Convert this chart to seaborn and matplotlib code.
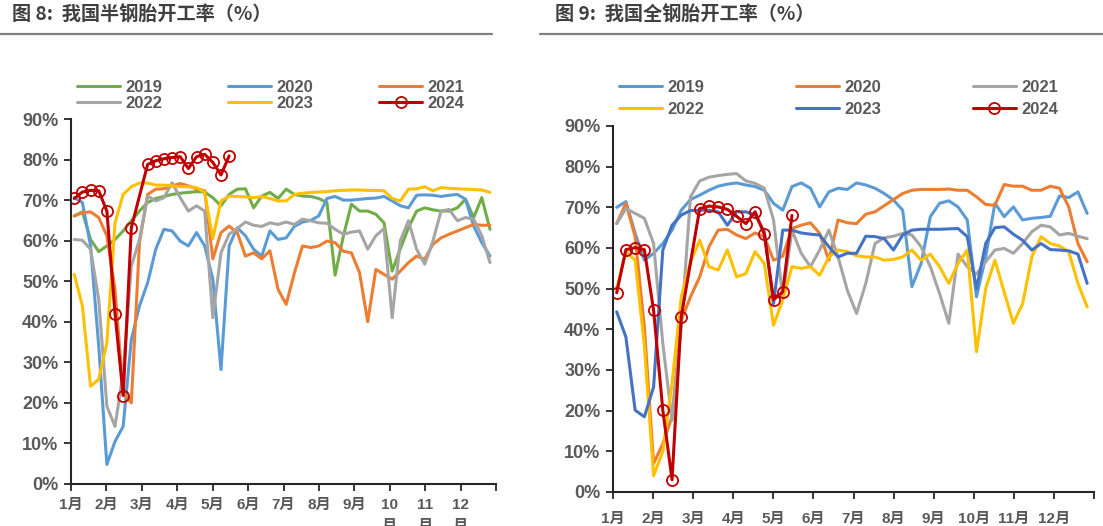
import numpy as np
import pandas as pd
import matplotlib
matplotlib.use("Agg")
import matplotlib.pyplot as plt
import seaborn as sns

sns.set_theme(style="white")
plt.rcParams['font.family'] = ['Liberation Sans', 'Noto Sans CJK SC', 'DejaVu Sans']

# ---------------- data: weekly operating rate (%) ----------------
months = ["1月", "2月", "3月", "4月", "5月", "6月", "7月", "8月", "9月", "10\n月", "11\n月", "12\n月"]
months_r = ["1月", "2月", "3月", "4月", "5月", "6月", "7月", "8月", "9月", "10月", "11月", "12月"]
years = ["2019", "2020", "2021", "2022", "2023", "2024"]

# semi-steel tyres (left)
semi_2019 = [66.1, 67.1, 60.3, 57.3, 58.7, 60.3, 62.4, 64.9, 67.3, 69.4, 70.4, 70.9, 71.4, 71.7, 71.9, 72.1,
             72.0, 70.6, 68.6, 71.4, 72.7, 72.8, 68.1, 71.0, 71.9, 70.4, 72.7, 71.4, 71.0, 70.9, 70.4, 69.4,
             51.5, 61.0, 69.0, 67.3, 67.3, 66.5, 64.4, 52.5, 58.0, 63.2, 67.3, 68.1, 67.6, 67.3, 67.3, 68.1,
             70.2, 65.7, 70.6, 62.8]
semi_2020 = [70.6, 69.4, 58.7, 34.0, 4.8, 10.5, 14.2, 35.6, 43.9, 49.6, 57.9, 62.8, 62.4, 59.9, 58.7, 62.0,
             58.7, 50.5, 28.2, 58.7, 63.2, 61.2, 57.9, 56.2, 62.4, 60.3, 60.7, 63.5, 64.6, 65.0, 66.1, 70.4,
             70.9, 70.0, 70.0, 70.2, 70.4, 70.5, 70.9, 69.8, 68.6, 68.1, 71.2, 71.3, 71.2, 70.9, 71.2, 71.4,
             70.2, 63.6, 59.5, 56.2]
semi_2021 = [66.1, 66.9, 67.1, 65.7, 61.2, 48.0, 22.5, 20.0, 59.5, 71.4, 72.7, 72.8, 73.5, 74.1, 73.5, 72.8,
             72.3, 55.5, 62.0, 63.6, 62.0, 56.2, 57.0, 55.5, 57.5, 48.0, 44.3, 52.0, 58.7, 58.3, 58.7, 59.9,
             59.5, 57.4, 57.0, 52.1, 40.0, 52.9, 51.7, 50.5, 52.5, 54.6, 56.2, 55.4, 59.1, 60.7, 61.6, 62.4,
             63.2, 64.0, 63.8, 63.8]
semi_2022 = [60.3, 60.1, 57.9, 45.5, 19.2, 14.2, 27.4, 53.7, 60.3, 71.0, 69.8, 70.6, 74.3, 70.6, 67.3, 68.6,
             67.3, 41.0, 57.0, 61.6, 63.0, 64.6, 63.8, 63.5, 64.4, 64.0, 64.6, 64.0, 65.3, 64.9, 64.4, 64.3,
             62.8, 61.6, 62.1, 62.4, 57.9, 61.2, 63.0, 41.0, 60.0, 64.9, 57.9, 54.2, 59.9, 67.3, 67.7, 64.9,
             65.7, 65.3, 61.2, 54.6]
semi_2023 = [51.7, 43.9, 24.1, 25.8, 34.8, 64.4, 71.4, 73.3, 74.2, 74.2, 73.7, 73.7, 73.5, 73.3, 73.3, 73.1,
             71.9, 60.5, 69.8, 71.0, 70.9, 70.8, 70.6, 70.9, 70.4, 69.8, 69.8, 71.4, 71.7, 71.9, 72.0, 72.1,
             72.3, 72.4, 72.5, 72.5, 72.4, 72.4, 72.3, 70.4, 69.8, 72.7, 72.8, 73.3, 72.3, 73.1, 72.9, 72.8,
             72.7, 72.6, 72.5, 71.9]
semi_2024_wk = [0, 1, 2, 3, 4, 5, 6, 7, 9, 10, 11, 12, 13, 14, 15, 16, 17, 18, 19]
semi_2024 = [70.4, 72.0, 72.4, 72.3, 67.3, 42.0, 21.8, 63.2, 78.8, 79.7, 80.2, 80.5, 80.7, 77.8, 80.7,
             81.3, 79.3, 76.2, 80.9]

# all-steel tyres (right)
all_2019 = [70.0, 71.4, 63.6, 57.0, 58.7, 61.1, 64.4, 69.3, 71.9, 73.0, 74.2, 75.2, 75.7, 76.0, 75.5, 75.1,
            74.2, 71.0, 69.3, 75.1, 76.0, 74.7, 70.1, 73.8, 74.7, 74.4, 76.0, 75.5, 74.7, 73.4, 71.8, 69.3,
            50.5, 56.2, 67.7, 71.0, 71.6, 70.1, 66.9, 48.0, 57.8, 71.0, 67.7, 70.1, 66.9, 67.3, 67.5, 67.8,
            72.8, 72.4, 73.8, 68.5]
all_2020 = [66.0, 71.0, 62.8, 40.6, 7.0, 11.9, 18.5, 42.2, 48.0, 52.9, 60.3, 64.4, 64.6, 63.2, 62.3, 63.7,
            62.8, 57.0, 58.0, 64.8, 65.6, 66.2, 63.6, 57.0, 66.9, 66.2, 66.0, 68.3, 68.9, 70.4, 71.9, 73.4,
            74.2, 74.4, 74.4, 74.4, 74.5, 74.2, 74.2, 72.6, 70.7, 70.5, 75.6, 75.2, 75.2, 74.2, 74.2, 75.2,
            74.7, 70.1, 61.1, 56.6]
all_2021 = [66.0, 69.7, 68.5, 67.3, 61.1, 36.5, 17.6, 40.6, 72.6, 76.5, 77.4, 77.8, 78.1, 78.3, 76.5, 75.9,
            74.7, 66.9, 48.0, 64.4, 58.7, 55.4, 59.5, 64.4, 57.8, 49.6, 43.9, 51.3, 61.1, 62.5, 62.9, 63.6,
            63.2, 60.3, 55.4, 48.8, 41.5, 58.5, 55.4, 53.6, 56.6, 59.5, 59.9, 58.7, 61.1, 64.0, 65.6, 65.2,
            63.2, 63.6, 62.9, 62.3]
all_2022 = [50.0, 59.1, 57.0, 36.0, 4.0, 10.0, 26.7, 48.0, 56.6, 61.9, 55.4, 54.6, 59.5, 52.9, 53.7, 59.1,
            56.2, 41.0, 47.2, 55.4, 55.0, 55.4, 53.3, 57.8, 59.5, 59.1, 58.1, 57.8, 57.8, 57.0, 57.2, 57.8,
            59.5, 57.0, 58.5, 55.4, 51.3, 56.2, 59.5, 34.5, 50.0, 57.0, 49.2, 41.5, 46.3, 57.8, 62.8, 61.1,
            60.5, 59.1, 51.3, 45.5]
all_2023 = [44.3, 38.1, 20.1, 18.5, 25.8, 59.5, 65.6, 68.1, 69.2, 69.3, 69.3, 68.9, 65.6, 68.9, 68.9, 68.1,
            64.0, 46.3, 64.4, 64.4, 63.7, 63.4, 63.2, 60.3, 57.8, 58.7, 58.7, 62.9, 62.8, 62.3, 59.5, 63.2,
            64.4, 64.6, 64.6, 64.6, 64.7, 64.8, 62.8, 50.0, 61.1, 65.0, 65.2, 63.4, 61.9, 59.5, 61.1, 59.6,
            59.5, 59.3, 58.5, 51.3]
all_2024_wk = [0, 1, 2, 3, 4, 5, 6, 7, 9, 10, 11, 12, 13, 14, 15, 16, 17, 18, 19]
all_2024 = [49.0, 59.6, 60.1, 59.6, 44.7, 20.1, 3.0, 43.1, 69.7, 70.3, 70.1, 69.5, 67.8, 66.0, 68.9,
            63.4, 47.3, 49.2, 68.0]

left_colors = ["#70AD47", "#5B9BD5", "#ED7D31", "#A5A5A5", "#FFC000", "#C00000"]
right_colors = ["#5B9BD5", "#ED7D31", "#A5A5A5", "#FFC000", "#4472C4", "#C00000"]

W, H = 1103, 526
fig = plt.figure(figsize=(W / 100, H / 100), dpi=100)

def px_axes(x0, x1, ytop, ybot):
    return fig.add_axes([x0 / W, (H - ybot) / H, (x1 - x0) / W, (ybot - ytop) / H])

WEEKS_PER_YEAR = 52.14
OFFSET = 0.4
TXT = "#595959"

def draw(ax, series, weeks_2024, colors, labels, xpad):
    for i, (vals, col) in enumerate(zip(series, colors)):
        if i < 5:
            wk = np.arange(len(vals))
            df = pd.DataFrame({"x": wk + OFFSET, "y": vals})
            sns.lineplot(data=df, x="x", y="y", ax=ax, color=col, linewidth=2.2,
                         label=years[i], sort=False)
        else:
            df = pd.DataFrame({"x": np.array(weeks_2024) + OFFSET, "y": vals})
            sns.lineplot(data=df, x="x", y="y", ax=ax, color=col, linewidth=2.2,
                         marker="o", markersize=8, markerfacecolor="none",
                         markeredgecolor=col, markeredgewidth=1.3, label=years[i], sort=False)
    ax.set_xlim(0, WEEKS_PER_YEAR)
    ax.set_ylim(0, 90)
    ax.set_xticks([k * WEEKS_PER_YEAR / 12 for k in range(13)])
    ax.set_xticklabels(labels + [""])
    ax.set_yticks(range(0, 91, 10))
    ax.set_yticklabels([f"{v}%" for v in range(0, 91, 10)])
    ax.set_xlabel("")
    ax.set_ylabel("")
    for s in ["top", "right"]:
        ax.spines[s].set_visible(False)
    for s in ["left", "bottom"]:
        ax.spines[s].set_color("#262626")
        ax.spines[s].set_linewidth(1.5)
    ax.tick_params(axis="both", which="both", direction="out", length=5, width=1.3,
                   color="#262626", labelcolor=TXT, left=True, bottom=True)
    ax.tick_params(axis="x", labelsize=11, pad=xpad)
    ax.tick_params(axis="y", labelsize=13, pad=4)
    for t in ax.get_xticklabels() + ax.get_yticklabels():
        t.set_fontweight("bold")
        t.set_linespacing(1.6)
    ax.grid(False)
    ax.set_facecolor("white")

axL = px_axes(71, 496, 119, 484)
draw(axL, [semi_2019, semi_2020, semi_2021, semi_2022, semi_2023, semi_2024], semi_2024_wk,
     left_colors, months, 5)
axR = px_axes(613, 1094, 126, 492)
draw(axR, [all_2019, all_2020, all_2021, all_2022, all_2023, all_2024], all_2024_wk,
     right_colors, months_r, 9)

def legend(ax, x, y, colsp, labsp):
    h, l = ax.get_legend_handles_labels()
    order = [0, 3, 1, 4, 2, 5]
    leg = ax.legend([h[i] for i in order], [l[i] for i in order], ncol=3, frameon=False,
                    loc="upper left", bbox_to_anchor=(x / W, 1 - y / H),
                    bbox_transform=fig.transFigure, borderpad=0, borderaxespad=0,
                    handlelength=2.6, handletextpad=0.3, columnspacing=colsp,
                    labelspacing=labsp, prop={"family": "Liberation Sans", "weight": "bold", "size": 12})
    for t in leg.get_texts():
        t.set_color(TXT)

legend(axL, 77, 80, 3.95, 0.05)
legend(axR, 619, 80, 5.5, 0.4)

# titles and rules
fig.text(12 / W, 1 - 15 / H, "图 8:  我国半钢胎开工率（%）", ha="left", va="center",
         fontsize=13.8, fontweight="bold", color="#404040", family=["Noto Sans CJK SC", "DejaVu Sans"])
fig.text(555 / W, 1 - 15 / H, "图 9:  我国全钢胎开工率（%）", ha="left", va="center",
         fontsize=13.8, fontweight="bold", color="#404040", family=["Noto Sans CJK SC", "DejaVu Sans"])
fig.add_artist(plt.Line2D([0, 492 / W], [1 - 34 / H, 1 - 34 / H], color="#7F7F7F", lw=1.6))
fig.add_artist(plt.Line2D([540 / W, 1], [1 - 34 / H, 1 - 34 / H], color="#7F7F7F", lw=1.6))

fig.savefig("out.png", dpi=100, facecolor="white")
